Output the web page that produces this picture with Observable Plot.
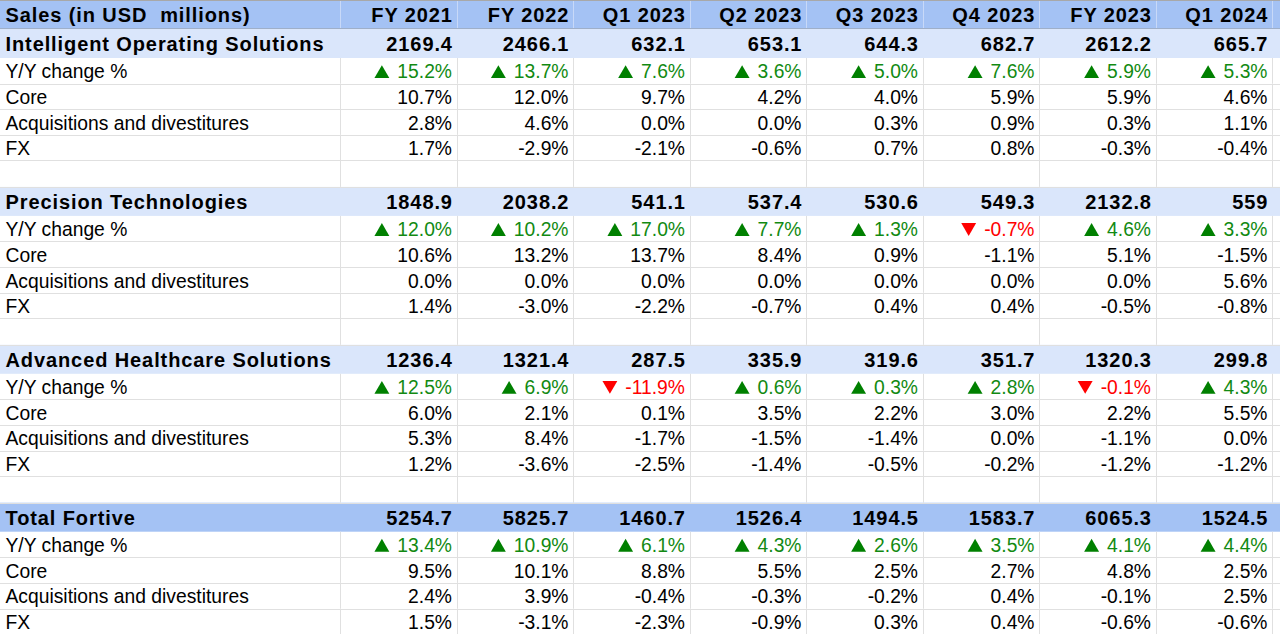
<!DOCTYPE html>
<html><head><meta charset="utf-8">
<script src="https://cdn.jsdelivr.net/npm/d3@7"></script>
<script src="https://cdn.jsdelivr.net/npm/@observablehq/plot@0.6"></script>
<style>
body{margin:0;background:#fff}
svg{display:block}
g[font-weight="bold"] text{letter-spacing:0.9px}
</style>
</head><body><div id="chart"></div>
<script>
// ---- data ----
const headerLabel = "Sales (in USD\u00a0 millions)";
const periods = ["FY 2021","FY 2022","Q1 2023","Q2 2023","Q3 2023","Q4 2023","FY 2023","Q1 2024"];
const segments = ["Intelligent Operating Solutions","Precision Technologies","Advanced Healthcare Solutions","Total Fortive"];
const rowLabels = ["Y/Y change %","Core","Acquisitions and divestitures","FX"];
const sales = [
  [2169.4,2466.1,632.1,653.1,644.3,682.7,2612.2,665.7],
  [1848.9,2038.2,541.1,537.4,530.6,549.3,2132.8,559],
  [1236.4,1321.4,287.5,335.9,319.6,351.7,1320.3,299.8],
  [5254.7,5825.7,1460.7,1526.4,1494.5,1583.7,6065.3,1524.5]
];
const yoyChange = [
  [15.2,13.7,7.6,3.6,5.0,7.6,5.9,5.3],
  [12.0,10.2,17.0,7.7,1.3,-0.7,4.6,3.3],
  [12.5,6.9,-11.9,0.6,0.3,2.8,-0.1,4.3],
  [13.4,10.9,6.1,4.3,2.6,3.5,4.1,4.4]
];
const core = [
  [10.7,12.0,9.7,4.2,4.0,5.9,5.9,4.6],
  [10.6,13.2,13.7,8.4,0.9,-1.1,5.1,-1.5],
  [6.0,2.1,0.1,3.5,2.2,3.0,2.2,5.5],
  [9.5,10.1,8.8,5.5,2.5,2.7,4.8,2.5]
];
const acquisitions = [
  [2.8,4.6,0.0,0.0,0.3,0.9,0.3,1.1],
  [0.0,0.0,0.0,0.0,0.0,0.0,0.0,5.6],
  [5.3,8.4,-1.7,-1.5,-1.4,0.0,-1.1,0.0],
  [2.4,3.9,-0.4,-0.3,-0.2,0.4,-0.1,2.5]
];
const fx = [
  [1.7,-2.9,-2.1,-0.6,0.7,0.8,-0.3,-0.4],
  [1.4,-3.0,-2.2,-0.7,0.4,0.4,-0.5,-0.8],
  [1.2,-3.6,-2.5,-1.4,-0.5,-0.2,-1.2,-1.2],
  [1.5,-3.1,-2.3,-0.9,0.3,0.4,-0.6,-0.6]
];

// ---- layout ----
const W = 1280, H = 634;
const FONT = "'Liberation Sans', Arial, sans-serif";
const FS = 19.3, FSB = 20;
const labelW = 340, colW = 116.5, pad = 5;
const heights = {header: 29, section: 29, sub: 25.6, blank: 26.5};
const colRight = i => labelW + (i + 1) * colW;

const ctx = document.createElement("canvas").getContext("2d");
ctx.font = `${FS}px ${FONT}`;
const textWidth = s => ctx.measureText(s).width;

const rows = [{type: "header"}];
segments.forEach((s, si) => {
  rows.push({type: "section", seg: si, total: si === segments.length - 1});
  [yoyChange, core, acquisitions, fx].forEach((arr, k) => rows.push({type: "sub", seg: si, k, arr}));
  if (si < segments.length - 1) rows.push({type: "blank"});
});
let acc = 0;
rows.forEach(r => { r.y0 = acc; acc += heights[r.type]; r.y1 = acc; r.yc = (r.y0 + r.y1) / 2; });

const bands = [], hLines = [], vLines = [], vHeaderLines = [];
const boldText = [], plainText = [], greenText = [], redText = [];
const upTri = [], downTri = [];
const pct = v => v.toFixed(1) + "%";
const seps = [labelW, ...periods.map((_, i) => colRight(i))];
const triArea = 96, triSide = Math.sqrt(triArea / (Math.sqrt(3) / 4));

rows.forEach(r => {
  if (r.type === "header") {
    bands.push({y0: r.y0, y1: r.y1, dark: true});
    boldText.push({x: pad, y: r.yc + 1, text: headerLabel, anchor: "start"});
    periods.forEach((p, i) => boldText.push({x: colRight(i) - pad + 0.9, y: r.yc + 1, text: p, anchor: "end"}));
    seps.forEach(x => vHeaderLines.push({x, y0: r.y0, y1: r.y1}));
  } else if (r.type === "section") {
    bands.push({y0: r.y0, y1: r.y1, dark: r.total});
    boldText.push({x: pad, y: r.yc + 1, text: segments[r.seg], anchor: "start"});
    sales[r.seg].forEach((v, i) => boldText.push({x: colRight(i) - pad + 0.9, y: r.yc + 1, text: String(v), anchor: "end"}));
  } else {
    seps.forEach(x => vLines.push({x, y0: r.y0, y1: r.y1}));
    hLines.push({y: Math.round(r.y1)});
    if (r.type === "sub") {
      const ty = r.yc + 1;
      plainText.push({x: pad, y: ty, text: rowLabels[r.k], anchor: "start"});
      r.arr[r.seg].forEach((v, i) => {
        const d = {x: colRight(i) - pad, y: ty, anchor: "end", text: pct(v)};
        if (r.k === 0) {
          const triX = d.x - textWidth(d.text) - 8 - triSide / 2;
          if (v >= 0) { greenText.push(d); upTri.push({x: triX, y: ty - 0.7 + triSide * 0.144}); }
          else { redText.push(d); downTri.push({x: triX, y: ty - 0.7 - triSide * 0.144}); }
        } else plainText.push(d);
      });
    }
  }
});

const mkText = (data, fill, weight, fs) => ["start", "end"].map(a =>
  Plot.text(data.filter(d => d.anchor === a), {
    x: "x", y: "y", text: "text", fill, fontSize: fs, fontWeight: weight,
    textAnchor: a, lineAnchor: "middle"
  }));

const triR = Math.sqrt(triArea / Math.PI);

const chart = Plot.plot({
  width: W, height: H,
  marginTop: 0, marginBottom: 0, marginLeft: 0, marginRight: 0,
  x: {type: "linear", domain: [0, W], range: [0, W], axis: null},
  y: {type: "linear", domain: [0, H], range: [0, H], axis: null},
  style: {fontFamily: FONT, background: "#fff"},
  marks: [
    Plot.rect(bands.filter(b => b.dark), {x1: 0, x2: W, y1: "y0", y2: "y1", fill: "#A4C2F4"}),
    Plot.rect(bands.filter(b => !b.dark), {x1: 0, x2: W, y1: "y0", y2: "y1", fill: "#DAE6FB"}),
    Plot.ruleX(vLines, {x: d => Math.round(d.x), y1: "y0", y2: "y1", stroke: "#E0E0E0", strokeWidth: 1}),
    Plot.ruleX(vHeaderLines, {x: d => Math.round(d.x), y1: "y0", y2: "y1", stroke: "#C8D9F8", strokeWidth: 1}),
    Plot.ruleY(hLines, {y: "y", x1: 0, x2: W, stroke: "#E0E0E0", strokeWidth: 1}),
    Plot.ruleY([0], {x1: 0, x2: W, stroke: "#A8A8A8", strokeWidth: 1}),
    Plot.ruleY([heights.header - 1], {x1: 0, x2: W, stroke: "#9FAFC8", strokeWidth: 1}),
    ...mkText(boldText, "#000", "bold", FSB),
    ...mkText(plainText, "#000", "normal", FS),
    ...mkText(greenText, "#128A12", "normal", FS),
    ...mkText(redText, "#FF0000", "normal", FS),
    Plot.dot(upTri, {x: "x", y: "y", symbol: "triangle", r: triR, fill: "#008000", stroke: null}),
    Plot.dot(downTri, {x: "x", y: "y", symbol: "triangle", r: triR, rotate: 180, fill: "#FF0000", stroke: null})
  ]
});
document.getElementById("chart").appendChild(chart);
</script>
</body></html>
